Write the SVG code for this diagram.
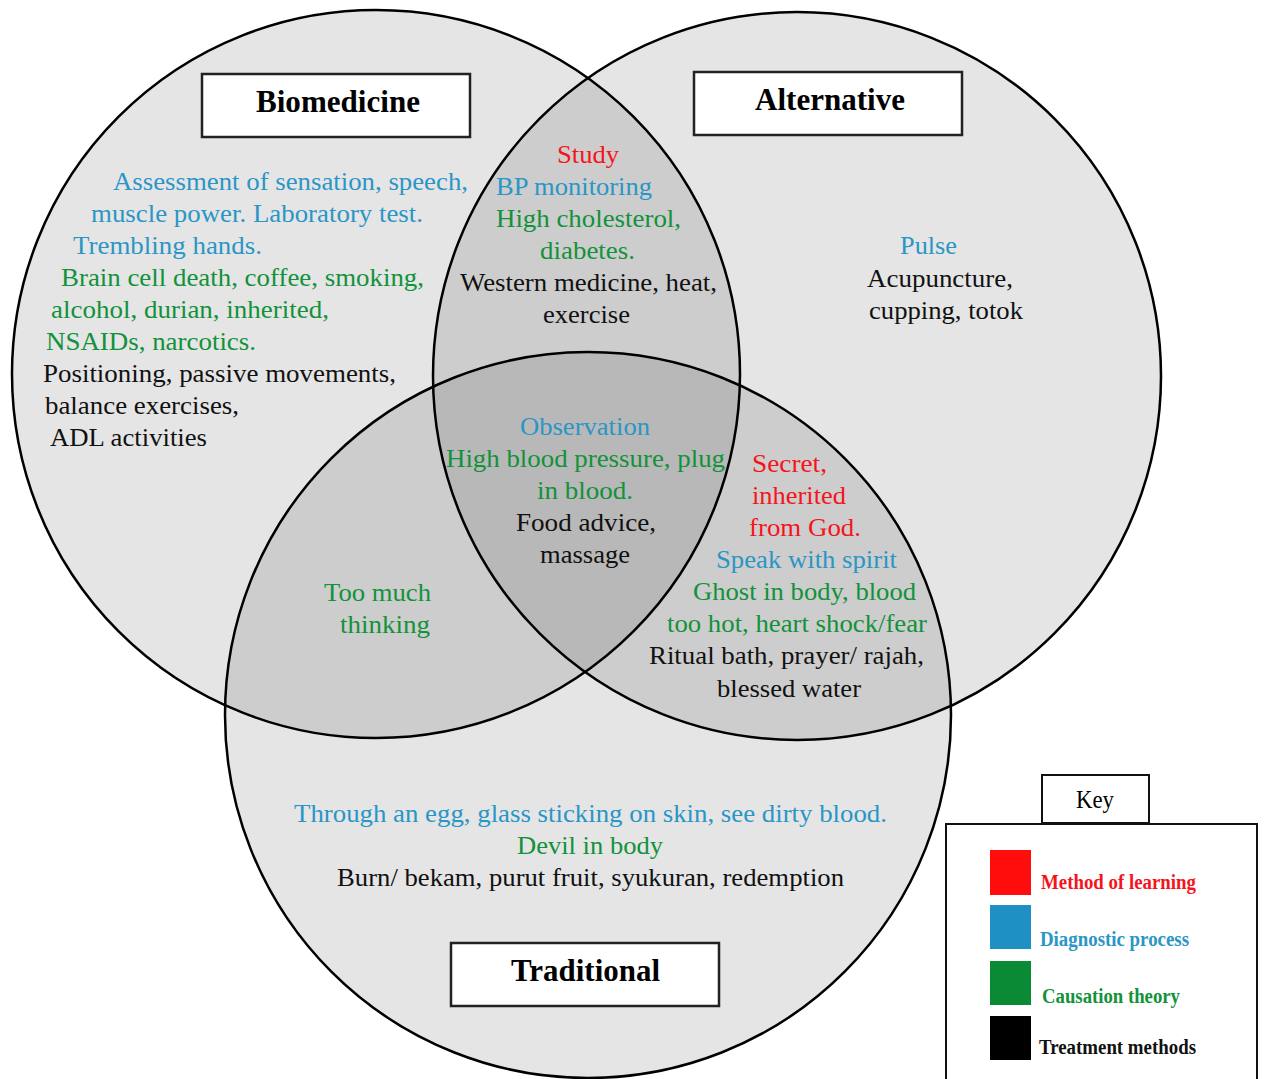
<svg xmlns="http://www.w3.org/2000/svg" width="1264" height="1079" viewBox="0 0 1264 1079">
<style>
text{font-family:"Liberation Serif","Times New Roman",serif;font-size:25px}
.r{fill:#f5141c}.b{fill:#2a96c6}.g{fill:#12923a}.k{fill:#111}
.t{font-size:32px;font-weight:bold;fill:#000}
.lg{font-size:20px;font-weight:bold}
.circ{fill:#000;fill-opacity:0.1;stroke:none}
.ring{fill:none;stroke:#000;stroke-width:2.5}
.box{fill:#fff;stroke:#222;stroke-width:2.5}
</style>
<rect width="1264" height="1079" fill="#fff"/>
<g id="circles">
<circle class="circ" cx="376" cy="374" r="364"/>
<circle class="circ" cx="797" cy="376" r="364"/>
<circle class="circ" cx="588" cy="715" r="363"/>
<circle class="ring" cx="376" cy="374" r="364"/>
<circle class="ring" cx="797" cy="376" r="364"/>
<circle class="ring" cx="588" cy="715" r="363"/>
</g>
<g id="biomedicine">
<rect class="box" x="202" y="74" width="268" height="63"/>
<text class="t" x="256" y="112" textLength="164" lengthAdjust="spacingAndGlyphs">Biomedicine</text>
<text class="b" x="113" y="190" textLength="355" lengthAdjust="spacingAndGlyphs">Assessment of sensation, speech,</text>
<text class="b" x="91" y="222" textLength="332" lengthAdjust="spacingAndGlyphs">muscle power. Laboratory test.</text>
<text class="b" x="73" y="254" textLength="189" lengthAdjust="spacingAndGlyphs">Trembling hands.</text>
<text class="g" x="61" y="286" textLength="363" lengthAdjust="spacingAndGlyphs">Brain cell death, coffee, smoking,</text>
<text class="g" x="51" y="318" textLength="278" lengthAdjust="spacingAndGlyphs">alcohol, durian, inherited,</text>
<text class="g" x="46" y="350" textLength="210" lengthAdjust="spacingAndGlyphs">NSAIDs, narcotics.</text>
<text class="k" x="43" y="382" textLength="353" lengthAdjust="spacingAndGlyphs">Positioning, passive movements,</text>
<text class="k" x="45" y="414" textLength="194" lengthAdjust="spacingAndGlyphs">balance exercises,</text>
<text class="k" x="50" y="446" textLength="157" lengthAdjust="spacingAndGlyphs">ADL activities</text>
</g>
<g id="alternative">
<rect class="box" x="694" y="72" width="268" height="63"/>
<text class="t" x="755" y="110" textLength="150" lengthAdjust="spacingAndGlyphs">Alternative</text>
<text class="b" x="900" y="254" textLength="57" lengthAdjust="spacingAndGlyphs">Pulse</text>
<text class="k" x="867" y="287" textLength="146" lengthAdjust="spacingAndGlyphs">Acupuncture,</text>
<text class="k" x="869" y="319" textLength="154" lengthAdjust="spacingAndGlyphs">cupping, totok</text>
</g>
<g id="bio-alt">
<text class="r" x="557" y="163" textLength="62" lengthAdjust="spacingAndGlyphs">Study</text>
<text class="b" x="496" y="195" textLength="156" lengthAdjust="spacingAndGlyphs">BP monitoring</text>
<text class="g" x="496" y="227" textLength="185" lengthAdjust="spacingAndGlyphs">High cholesterol,</text>
<text class="g" x="540" y="259" textLength="95" lengthAdjust="spacingAndGlyphs">diabetes.</text>
<text class="k" x="460" y="291" textLength="257" lengthAdjust="spacingAndGlyphs">Western medicine, heat,</text>
<text class="k" x="543" y="323" textLength="87" lengthAdjust="spacingAndGlyphs">exercise</text>
</g>
<g id="all-three">
<text class="b" x="520" y="435" textLength="130" lengthAdjust="spacingAndGlyphs">Observation</text>
<text class="g" x="446" y="467" textLength="279" lengthAdjust="spacingAndGlyphs">High blood pressure, plug</text>
<text class="g" x="537" y="499" textLength="96" lengthAdjust="spacingAndGlyphs">in blood.</text>
<text class="k" x="516" y="531" textLength="140" lengthAdjust="spacingAndGlyphs">Food advice,</text>
<text class="k" x="540" y="563" textLength="90" lengthAdjust="spacingAndGlyphs">massage</text>
</g>
<g id="bio-trad">
<text class="g" x="324" y="601" textLength="107" lengthAdjust="spacingAndGlyphs">Too much</text>
<text class="g" x="340" y="633" textLength="90" lengthAdjust="spacingAndGlyphs">thinking</text>
</g>
<g id="alt-trad">
<text class="r" x="752" y="472" textLength="75" lengthAdjust="spacingAndGlyphs">Secret,</text>
<text class="r" x="752" y="504" textLength="94" lengthAdjust="spacingAndGlyphs">inherited</text>
<text class="r" x="749" y="536" textLength="112" lengthAdjust="spacingAndGlyphs">from God.</text>
<text class="b" x="716" y="568" textLength="181" lengthAdjust="spacingAndGlyphs">Speak with spirit</text>
<text class="g" x="693" y="600" textLength="223" lengthAdjust="spacingAndGlyphs">Ghost in body, blood</text>
<text class="g" x="667" y="632" textLength="260" lengthAdjust="spacingAndGlyphs">too hot, heart shock/fear</text>
<text class="k" x="649" y="664" textLength="275" lengthAdjust="spacingAndGlyphs">Ritual bath, prayer/ rajah,</text>
<text class="k" x="717" y="697" textLength="144" lengthAdjust="spacingAndGlyphs">blessed water</text>
</g>
<g id="traditional">
<text class="b" x="294" y="822" textLength="593" lengthAdjust="spacingAndGlyphs">Through an egg, glass sticking on skin, see dirty blood.</text>
<text class="g" x="517" y="854" textLength="146" lengthAdjust="spacingAndGlyphs">Devil in body</text>
<text class="k" x="337" y="886" textLength="507" lengthAdjust="spacingAndGlyphs">Burn/ bekam, purut fruit, syukuran, redemption</text>
<rect class="box" x="451" y="943" width="268" height="63"/>
<text class="t" x="511" y="981" textLength="149" lengthAdjust="spacingAndGlyphs">Traditional</text>
</g>
<g id="key">
<rect x="946" y="824" width="311" height="270" fill="#fff" stroke="#111" stroke-width="2"/>
<rect x="1042" y="775" width="107" height="48" fill="#fff" stroke="#111" stroke-width="2"/>
<text x="1076" y="808" font-size="22" fill="#000" textLength="38" lengthAdjust="spacingAndGlyphs">Key</text>
<rect x="990" y="850" width="41" height="45" fill="#ff0d0d"/>
<rect x="990" y="905" width="41" height="44" fill="#1f90c4"/>
<rect x="990" y="961" width="41" height="44" fill="#0b8a35"/>
<rect x="990" y="1016" width="41" height="44" fill="#000"/>
<text class="lg r" x="1041" y="889" textLength="155" lengthAdjust="spacingAndGlyphs">Method of learning</text>
<text class="lg b" x="1040" y="946" textLength="149" lengthAdjust="spacingAndGlyphs">Diagnostic process</text>
<text class="lg g" x="1042" y="1003" textLength="138" lengthAdjust="spacingAndGlyphs">Causation theory</text>
<text class="lg k" x="1039" y="1054" textLength="157" lengthAdjust="spacingAndGlyphs">Treatment methods</text>
</g>
</svg>
